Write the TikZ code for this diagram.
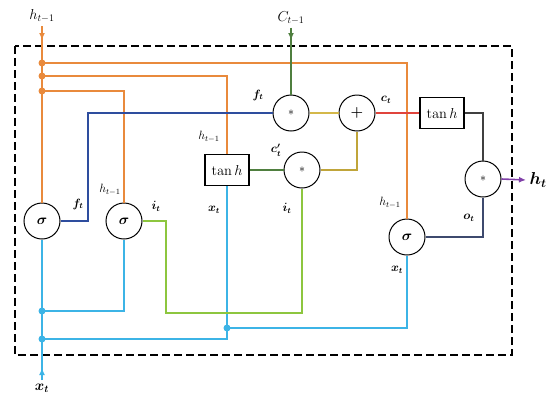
\documentclass[tikz,border=0pt]{standalone}
\usepackage{amsmath}
\usetikzlibrary{arrows.meta}

\definecolor{hcol}{HTML}{E98A3C}
\definecolor{xcol}{HTML}{3CB4E6}
\definecolor{icol}{HTML}{8DC63F}
\definecolor{fcol}{HTML}{2E4D9E}
\definecolor{ycol}{HTML}{D4B84A}
\definecolor{ocol}{HTML}{C0A53A}
\definecolor{gcol}{HTML}{4F7F3F}
\definecolor{ccol}{HTML}{E0443C}
\definecolor{pcol}{HTML}{8040A8}
\definecolor{ncol}{HTML}{3E4A6E}

\begin{document}
\begin{tikzpicture}[x=1pt, y=-1pt,
    gate/.style={circle, draw, line width=1pt, minimum size=36pt, inner sep=0pt},
    tanhbox/.style={draw, line width=1.5pt, minimum width=44pt, minimum height=31pt, inner sep=0pt, font=\Large},
    lbl/.style={font=\large},
    wire/.style={line width=1.1pt},
    dot/.style={circle, fill, inner sep=0pt, minimum size=7pt},
    tip/.style={-{Latex[length=7pt,width=6pt]}}]

    \useasboundingbox (0,0) rectangle (548,394);

    % Cell border
    \draw[line width=2.6pt, dash pattern=on 8pt off 4pt] (15,46) rectangle (512,355);

    % Gates
    \node[gate] (sig1) at (42,221) {\Large $\boldsymbol{\sigma}$};
    \node[gate] (sig2) at (124,221) {\Large $\boldsymbol{\sigma}$};
    \node[gate] (sig3) at (407,237) {\Large $\boldsymbol{\sigma}$};
    \node[gate] (mul1) at (291,113) {\large $*$};
    \node[gate] (mul2) at (302,170) {\large $*$};
    \node[gate] (mul3) at (483,179) {\large $*$};
    \node[gate] (add) at (357,113) {\Large $\boldsymbol{+}$};
    \node[tanhbox] (tanh1) at (227,170) {$\tan h$};
    \node[tanhbox] (tanh2) at (442,113) {$\tan h$};

    % Inputs and output
    \node[font=\Large] (hin) at (42,16) {$h_{t-1}$};
    \node[font=\Large] (cin) at (291,18) {$C_{t-1}$};
    \node[font=\Large] (xin) at (42,388) {$\boldsymbol{x_t}$};
    \node[anchor=west, font=\LARGE] (hout) at (526,180) {$\boldsymbol{h_t}$};
    \coordinate (htip) at (42,40);
    \coordinate (ctip) at (291,40);
    \coordinate (xtip) at (42,368);

    % Junctions
    \coordinate (d1) at (42,63);
    \coordinate (d2) at (42,76);
    \coordinate (d3) at (42,91);
    \coordinate (e1) at (42,311);
    \coordinate (e2) at (42,339);
    \coordinate (e3) at (227,328);
    \coordinate (b1) at (88,113);
    \coordinate (g1) at (166,313);

    % h_{t-1} lines
    \draw[hcol, wire] (hin.south) -- (sig1.north);
    \draw[hcol, wire, tip] (hin.south) -- (htip);
    \draw[hcol, wire] (d1) -| (sig3.north);
    \draw[hcol, wire] (d2) -| (tanh1.north);
    \draw[hcol, wire] (d3) -| (sig2.north);
    \foreach \d in {d1,d2,d3} {
        \node[dot, hcol] at (\d) {};
    }

    % x_t lines
    \draw[xcol, wire] (xin.north) -- (sig1.south);
    \draw[xcol, wire, tip] (xin.north) -- (xtip);
    \draw[xcol, wire] (e1) -| (sig2.south);
    \draw[xcol, wire] (e2) -| (e3);
    \draw[xcol, wire] (e3) -| (sig3.south);
    \draw[xcol, wire] (e3) -- (tanh1.south);
    \foreach \d in {e1,e2,e3} {
        \node[dot, xcol] at (\d) {};
    }

    % C_{t-1} line
    \draw[gcol, wire] (cin.south) -- (mul1.north);
    \draw[gcol, wire, tip] (cin.south) -- (ctip);

    % Gate outputs
    \draw[fcol, wire] (sig1.east) -| (b1) -- (mul1.west);
    \draw[icol, wire] (sig2.east) -| (g1) -| (mul2.south);
    \draw[gcol, wire] (tanh1.east) -- (mul2.west);
    \draw[ycol, wire] (mul1.east) -- (add.west);
    \draw[ocol, wire] (mul2.east) -| (add.south);
    \draw[ccol, wire] (add.east) -- (tanh2.west);
    \draw[black!75, wire] (tanh2.east) -| (mul3.north);
    \draw[ncol, wire] (sig3.east) -| (mul3.south);
    \draw[pcol, line width=1.6pt, tip] (mul3.east) -- (hout.west);

    % Labels
    \node[lbl] (lf1) at (78,204) {$\boldsymbol{f_t}$};
    \node[lbl] (lh2) at (110,190) {$h_{t-1}$};
    \node[lbl] (li2) at (156,206) {$\boldsymbol{i_t}$};
    \node[lbl] (lh1) at (209,137) {$h_{t-1}$};
    \node[lbl] (lx1) at (214,210) {$\boldsymbol{x_t}$};
    \node[lbl] (lf2) at (258,95) {$\boldsymbol{f_t}$};
    \node[lbl] (lc1) at (276,150) {$\boldsymbol{c'_t}$};
    \node[lbl] (li1) at (287,208) {$\boldsymbol{i_t}$};
    \node[lbl] (lc2) at (386,100) {$\boldsymbol{c_t}$};
    \node[lbl] (lh3) at (390,203) {$h_{t-1}$};
    \node[lbl] (lo) at (469,218) {$\boldsymbol{o_t}$};
    \node[lbl] (lx2) at (397,270) {$\boldsymbol{x_t}$};

\end{tikzpicture}
\end{document}
